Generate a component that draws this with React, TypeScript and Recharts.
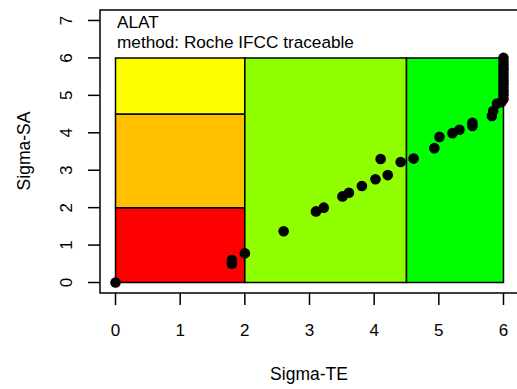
import React from "react";
import {
  ScatterChart,
  Scatter,
  XAxis,
  YAxis,
  ReferenceArea,
  Customized,
} from "recharts";

// Sigma-TE (x) / Sigma-SA (y) per run
const sigmaTE = [
  0, 1.8, 1.8, 2.0, 2.6, 3.1, 3.22, 3.51, 3.61, 3.81, 4.02, 4.1, 4.21, 4.41,
  4.61, 4.93, 5.01, 5.21, 5.32, 5.52, 5.52, 5.82, 5.84, 5.9, 5.97, 6.0, 6.0,
  6.0, 6.0, 6.0, 6.0, 6.0, 6.0, 6.0, 6.0, 6.0, 6.0,
];
const sigmaSA = [
  0, 0.5, 0.6, 0.78, 1.37, 1.9, 2.0, 2.3, 2.4, 2.58, 2.76, 3.3, 2.87, 3.22,
  3.31, 3.59, 3.89, 3.99, 4.08, 4.18, 4.27, 4.45, 4.58, 4.78, 4.82, 4.9, 5.0,
  5.1, 5.2, 5.3, 5.4, 5.5, 5.6, 5.7, 5.8, 5.9, 6.0,
];

// quality zones: [x1, x2, y1, y2, colour]
const zoneX1 = [0, 0, 0, 2, 4.5];
const zoneX2 = [2, 2, 2, 4.5, 6];
const zoneY1 = [0, 2, 4.5, 0, 0];
const zoneY2 = [2, 4.5, 6, 6, 6];
const zoneColours = ["#ff0000", "#ffc000", "#ffff00", "#90ff00", "#00ff00"];

const xTicks = [0, 1, 2, 3, 4, 5, 6];
const yTicks = [0, 1, 2, 3, 4, 5, 6, 7];

const title = "ALAT";
const subtitle = "method: Roche IFCC traceable";

const FONT = '"Liberation Sans", Arial, Helvetica, sans-serif';
const X_DOMAIN: [number, number] = [-0.24, 6.24];
const Y_DOMAIN: [number, number] = [-0.28, 7.28];

const points = sigmaTE.map((x, i) => ({ x, y: sigmaSA[i] }));

function XTick({ x, y, payload }: any) {
  return (
    <text x={x} y={y + 29} textAnchor="middle" fontSize={17} fontFamily={FONT} fill="#000">
      {payload.value}
    </text>
  );
}

// R-style y labels, turned to read bottom-up
function YTick({ x, y, payload }: any) {
  const bx = x - 14;
  return (
    <text
      x={bx}
      y={y}
      transform={`rotate(-90, ${bx}, ${y})`}
      textAnchor="middle"
      fontSize={17}
      fontFamily={FONT}
      fill="#000"
    >
      {payload.value}
    </text>
  );
}

function Annotations() {
  return (
    <g fontFamily={FONT} fill="#000">
      <text x={117} y={28} fontSize={17.2}>{title}</text>
      <text x={117} y={48} fontSize={17.2}>{subtitle}</text>
      <text x={309} y={380} fontSize={17.5} textAnchor="middle">Sigma-TE</text>
      <text x={30} y={151} fontSize={17.5} textAnchor="middle" transform="rotate(-90, 30, 151)">
        Sigma-SA
      </text>
    </g>
  );
}

export default function App() {
  return (
    <div style={{ position: "absolute", left: 0, top: 0, width: 517, height: 389, overflow: "hidden", background: "#fff" }}>
      <ScatterChart width={522} height={389} margin={{ top: 10, right: 3, bottom: 0, left: 0 }}>
        <XAxis
          type="number"
          dataKey="x"
          domain={X_DOMAIN}
          ticks={xTicks}
          axisLine={false}
          tickSize={12}
          tickLine={{ stroke: "#000", strokeWidth: 1.5 }}
          tick={<XTick />}
          height={96}
          allowDataOverflow
        />
        <YAxis
          type="number"
          dataKey="y"
          domain={Y_DOMAIN}
          ticks={yTicks}
          axisLine={false}
          tickSize={12}
          tickLine={{ stroke: "#000", strokeWidth: 1.5 }}
          tick={<YTick />}
          width={100}
          allowDataOverflow
        />
        {zoneColours.map((c, i) => (
          <ReferenceArea
            key={i}
            x1={zoneX1[i]}
            x2={zoneX2[i]}
            y1={zoneY1[i]}
            y2={zoneY2[i]}
            fill={c}
            fillOpacity={1}
            stroke="#000"
            strokeWidth={1.5}
          />
        ))}
        {/* plot frame */}
        <ReferenceArea
          x1={X_DOMAIN[0]}
          x2={X_DOMAIN[1]}
          y1={Y_DOMAIN[0]}
          y2={Y_DOMAIN[1]}
          fill="none"
          fillOpacity={0}
          stroke="#000"
          strokeWidth={1.5}
        />
        <Scatter
          data={points}
          isAnimationActive={false}
          shape={(p: any) => <circle cx={p.cx} cy={p.cy} r={5.3} fill="#000" />}
        />
        <Customized component={Annotations} />
      </ScatterChart>
    </div>
  );
}
